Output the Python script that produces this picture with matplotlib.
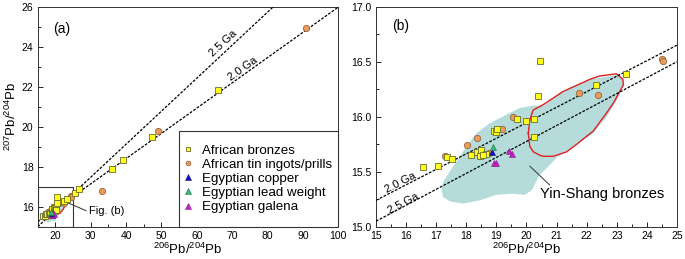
import numpy as np
import matplotlib
matplotlib.use("Agg")
import matplotlib.pyplot as plt
from matplotlib.lines import Line2D
from matplotlib.patches import Polygon, Rectangle

plt.rcParams['font.family'] = ['Liberation Sans', 'DejaVu Sans']
plt.rcParams['mathtext.fontset'] = 'custom'
plt.rcParams['mathtext.rm'] = 'Liberation Sans'
plt.rcParams['mathtext.it'] = 'Liberation Sans:italic'
plt.rcParams['mathtext.default'] = 'regular'

# ---------------- data ----------------
bronze_x = [16.57, 17.05, 17.37, 17.51, 18.15, 18.36, 18.50, 18.45, 18.65, 18.57,
            18.92, 19.00, 19.01, 19.70, 19.97, 20.24, 20.24, 20.39, 20.44, 22.32,
            23.32, 25.5, 26.8, 36.0, 39.2, 47.2, 66.0]
bronze_y = [15.54, 15.55, 15.63, 15.62, 15.65, 15.68, 15.70, 15.64, 15.66, 15.65,
            15.87, 15.86, 15.89, 15.98, 15.96, 15.98, 15.82, 16.19, 16.51, 16.29,
            16.39, 16.70, 16.87, 17.90, 18.35, 19.50, 21.85]

tin_x = [17.30, 18.01, 18.36, 18.75, 19.19, 19.56, 21.76, 22.39, 24.49, 24.54, 33.3, 49.0, 91.0]
tin_y = [15.64, 15.74, 15.81, 15.67, 15.89, 16.00, 16.22, 16.20, 16.52, 16.51, 16.80, 19.77, 24.95]

cu_x = [18.86]
cu_y = [15.68]
pbw_x = [18.88]
pbw_y = [15.725]
gal_x = [18.92, 19.00, 19.42, 19.51]
gal_y = [15.58, 15.58, 15.69, 15.66]

# Yin-Shang bronze field (cyan) and red outline
field_x = [17.18, 17.23, 17.57, 18.00, 18.34, 18.78, 19.34, 19.78, 20.22, 20.56,
           21.22, 22.11, 23.00, 23.22, 23.22, 23.00, 22.66, 22.22, 21.67, 21.00,
           20.88, 20.44, 20.17, 19.94, 19.56, 19.00, 18.45, 17.90, 17.46, 17.23]
field_y = [15.33, 15.41, 15.55, 15.73, 15.85, 15.94, 16.02, 16.08, 16.10, 16.10,
           16.23, 16.34, 16.38, 16.35, 16.28, 16.15, 16.00, 15.85, 15.75, 15.63,
           15.59, 15.47, 15.33, 15.29, 15.30, 15.29, 15.24, 15.21, 15.23, 15.27]
red_x = [20.06, 20.11, 20.22, 20.56, 21.22, 22.11, 22.43, 22.99, 23.20, 23.22,
         23.10, 22.90, 22.65, 22.22, 21.99, 21.67, 21.33, 21.00, 20.88, 20.56,
         20.44, 20.23, 20.11, 20.06]
red_y = [15.85, 15.97, 16.06, 16.11, 16.23, 16.34, 16.37, 16.39, 16.34, 16.29,
         16.23, 16.13, 16.03, 15.87, 15.82, 15.75, 15.68, 15.65, 15.64, 15.64,
         15.65, 15.68, 15.73, 15.85]

# isochron reference lines
iso_a_x = [15, 100]
iso25_a_y = [15.0, 29.03]
iso20_a_y = [15.25, 25.98]
iso_b_x = [15, 25]
iso20_b_y = [15.24, 16.65]
iso25_b_y = [15.05, 16.50]

legend_labels = ['African bronzes', 'African tin ingots/prills', 'Egyptian copper',
                 'Egyptian lead weight', 'Egyptian galena']

# ---------------- style ----------------
SQ = dict(marker='s', ms=4.2, mfc='#ffff1a', mec='#6b6b30', mew=0.6, ls='none')
CI = dict(marker='o', ms=4.6, mfc='#ec9a58', mec='#8a5a30', mew=0.5, ls='none')
BL = dict(marker='^', ms=5.0, mfc='#1010c8', mec='#10106a', mew=0.4, ls='none')
GR = dict(marker='^', ms=5.0, mfc='#3cb878', mec='#207048', mew=0.4, ls='none')
MG = dict(marker='^', ms=5.0, mfc='#c81ec8', mec='#802080', mew=0.4, ls='none')
CYAN = '#b5dcda'
DASH = dict(color='black', lw=0.9, ls=(0, (2.2, 1.2)))

fig = plt.figure(figsize=(6.85, 2.59), dpi=100)
axa = fig.add_axes([0.0550, 0.1246, 0.4389, 0.8496])
axb = fig.add_axes([0.5489, 0.1246, 0.4394, 0.8496])


def draw_common(ax):
    ax.add_patch(Polygon(np.column_stack([field_x, field_y]), closed=True,
                         facecolor=CYAN, edgecolor='none', zorder=1))
    ax.plot(red_x, red_y, color='#e02020', lw=1.0, zorder=2)
    ax.plot(tin_x, tin_y, zorder=4, **CI)
    ax.plot(bronze_x, bronze_y, zorder=5, **SQ)
    ax.plot(gal_x, gal_y, zorder=6, **MG)
    ax.plot(cu_x, cu_y, zorder=6, **BL)
    ax.plot(pbw_x, pbw_y, zorder=7, **GR)


def style(ax):
    ax.tick_params(which='both', direction='in', labelsize=7.5, top=False, right=False)
    ax.tick_params(which='major', length=3.5, width=0.6, pad=3)
    ax.tick_params(which='minor', length=2, width=0.6)
    for s in ax.spines.values():
        s.set_linewidth(0.7)
        s.set_color('#333333')


# ---- panel (a) ----
draw_common(axa)
axa.plot(iso_a_x, iso25_a_y, zorder=3, **DASH)
axa.plot(iso_a_x, iso20_a_y, zorder=3, **DASH)
axa.set_xlim(15, 100)
axa.set_ylim(15, 26)
axa.set_xticks(np.arange(20, 101, 10))
axa.set_xticks(np.arange(15, 100, 10), minor=True)
axa.set_yticks(np.arange(16, 27, 2))
axa.set_yticks(np.arange(15, 26, 2), minor=True)
style(axa)
axa.set_xlabel(r'$^{206}$Pb/$^{204}$Pb', fontsize=9.5, labelpad=1)
axa.set_ylabel(r'$^{207}$Pb/$^{204}$Pb', fontsize=9.5, labelpad=2)
axa.text(19.3, 24.9, '(a)', fontsize=10, va='center', ha='left')
s25 = (iso25_a_y[1] - iso25_a_y[0]) / (iso_a_x[1] - iso_a_x[0])
s20 = (iso20_a_y[1] - iso20_a_y[0]) / (iso_a_x[1] - iso_a_x[0])
axa.text(67.5, 24.17, '2.5 Ga', fontsize=8, ha='center', va='center',
         rotation=np.degrees(np.arctan(s25)), transform_rotates_text=True,
         rotation_mode='anchor')
axa.text(73.1, 22.9, '2.0 Ga', fontsize=8, ha='center', va='center',
         rotation=np.degrees(np.arctan(s20)), transform_rotates_text=True,
         rotation_mode='anchor')
axa.add_patch(Rectangle((15, 15), 10, 2, fill=False, ec='#333333', lw=0.8, zorder=3))
axa.plot([23.5, 28.7], [16.2, 15.8], color='#333333', lw=0.7)
axa.text(29.6, 15.8, 'Fig. (b)', fontsize=8, va='center', ha='left')

# legend frame (drawn separately so its height matches the reference)
axa.add_patch(Rectangle((0.470, 0.0), 0.53, 0.436, transform=axa.transAxes,
                        facecolor='white', edgecolor='#333333', lw=0.8, zorder=2.4,
                        clip_on=False))
LSQ = dict(SQ, ms=3.2)
LCI = dict(CI, ms=3.4)
LBL = dict(BL, ms=3.8)
LGR = dict(GR, ms=3.8)
LMG = dict(MG, ms=3.8)
handles = [Line2D([], [], **LSQ), Line2D([], [], **LCI), Line2D([], [], **LBL),
           Line2D([], [], **LGR), Line2D([], [], **LMG)]
leg = axa.legend(handles, legend_labels, loc='center', bbox_to_anchor=(0.733, 0.218),
                 frameon=False, fontsize=9.6,
                 handlelength=0.6, handletextpad=0.8, labelspacing=0.14,
                 borderpad=0.0)
leg.set_zorder(9)

# ---- panel (b) ----
draw_common(axb)
axb.plot(iso_b_x, iso20_b_y, zorder=3, **DASH)
axb.plot(iso_b_x, iso25_b_y, zorder=3, **DASH)
axb.set_xlim(15, 25)
axb.set_ylim(15, 17)
axb.set_xticks(np.arange(15, 26, 1))
axb.set_xticks(np.arange(15.5, 25, 1), minor=True)
axb.set_yticks(np.arange(15, 17.01, 0.5))
axb.set_yticks(np.arange(15.25, 17, 0.5), minor=True)
axb.yaxis.set_major_formatter(matplotlib.ticker.FormatStrFormatter('%.1f'))
style(axb)
axb.set_xlabel(r'$^{206}$Pb/$^{204}$Pb', fontsize=9.5, labelpad=1)
axb.text(15.52, 16.82, '(b)', fontsize=10, va='center', ha='left')
sb20 = (iso20_b_y[1] - iso20_b_y[0]) / 10
sb25 = (iso25_b_y[1] - iso25_b_y[0]) / 10
axb.text(15.8, 15.40, '2.0 Ga', fontsize=8, ha='center', va='center',
         rotation=np.degrees(np.arctan(sb20)), transform_rotates_text=True,
         rotation_mode='anchor')
axb.text(15.9, 15.21, '2.5 Ga', fontsize=8, ha='center', va='center',
         rotation=np.degrees(np.arctan(sb25)), transform_rotates_text=True,
         rotation_mode='anchor')
axb.plot([20.11, 20.77], [15.55, 15.38], color='#333333', lw=0.7)
axb.text(20.45, 15.30, 'Yin-Shang bronzes', fontsize=10.5, va='center', ha='left')

fig.savefig('out.png', dpi=100)
